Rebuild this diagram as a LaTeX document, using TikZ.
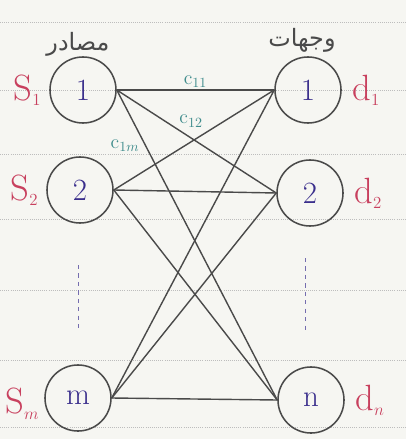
\documentclass[tikz,border=0pt]{standalone}
\usepackage{fontspec}
\usetikzlibrary{positioning}
\newfontfamily\arabicfont[Script=Arabic]{DejaVu Sans}
\TeXXeTstate=1
\definecolor{paper}{HTML}{F6F6F2}
\definecolor{rule}{HTML}{BDBDBD}
\definecolor{pencil}{HTML}{4A4A4A}
\definecolor{inkblue}{HTML}{3A2E8C}
\definecolor{inkred}{HTML}{C8405E}
\definecolor{inkteal}{HTML}{3F8C8C}

\begin{document}
\begin{tikzpicture}[
    x=0.025cm, y=-0.025cm,
    site/.style={draw=pencil, circle, line width=1.1pt, minimum size=1.65cm, inner sep=0pt, font=\fontsize{22}{24}\selectfont, text=inkblue},
    tag/.style={font=\fontsize{26}{28}\selectfont, text=inkred},
    cost/.style={font=\fontsize{14}{16}\selectfont, text=inkteal, inner sep=1pt},
    head/.style={font=\arabicfont\fontsize{17}{19}\selectfont, text=pencil},
    route/.style={draw=pencil, line width=1pt},
    paperline/.style={draw=rule, densely dotted, line width=0.5pt},
    dots/.style={draw=inkblue!70, dashed, line width=0.6pt},
]

\useasboundingbox[fill=paper] (0,0) rectangle (406,439);

% --- Paper rules ---
\foreach \y in {22,90,154,219,290,360,427}
  \draw[paperline] (0,\y) -- (406,\y);

% --- Sources ---
\node[site] (s1) at (83,90) {1};
\node[site] (s2) at (80,190) {2};
\node[site] (sm) at (78,398) {m};

% --- Destinations ---
\node[site] (d1) at (308,90) {1};
\node[site] (d2) at (310,193) {2};
\node[site] (dn) at (311,400) {n};

% --- Headings ---
\node[head] (hsrc) at (78,44) {\beginR مصادر\endR};
\node[head] (hdst) at (302,40) {\beginR وجهات\endR};

% --- Supplies and demands ---
\node[tag, left=2pt of s1] (ls1) {$\mathrm{S}_{\scriptscriptstyle 1}$};
\node[tag, left=2pt of s2] (ls2) {$\mathrm{S}_{\scriptscriptstyle 2}$};
\node[tag, left=0pt of sm, yshift=-4pt] (lsm) {$\mathrm{S}_{\scriptscriptstyle m}$};
\node[tag, right=4pt of d1] (ld1) {$\mathrm{d}_{\scriptscriptstyle 1}$};
\node[tag, right=4pt of d2] (ld2) {$\mathrm{d}_{\scriptscriptstyle 2}$};
\node[tag, right=4pt of dn] (ldn) {$\mathrm{d}_{\scriptscriptstyle n}$};

% --- Routes ---
\draw[route] (s1.east) -- node[cost, above] {$\mathrm{c}_{11}$} (d1.west);
\draw[route] (s1.east) -- node[cost, pos=0.38, above right=0pt and 0pt] {$\mathrm{c}_{12}$} (d2.west);
\draw[route] (s1.east) -- node[cost, pos=0.18, left=3pt] {$\mathrm{c}_{1m}$} (dn.west);
\draw[route] (s2.east) -- (d1.west);
\draw[route] (s2.east) -- (d2.west);
\draw[route] (s2.east) -- (dn.west);
\draw[route] (sm.east) -- (d1.west);
\draw[route] (sm.east) -- (d2.west);
\draw[route] (sm.east) -- (dn.west);

% --- Ellipsis ---
\draw[dots] (78,265) -- (78,330);
\draw[dots] (305,258) -- (305,330);

\end{tikzpicture}
\end{document}
